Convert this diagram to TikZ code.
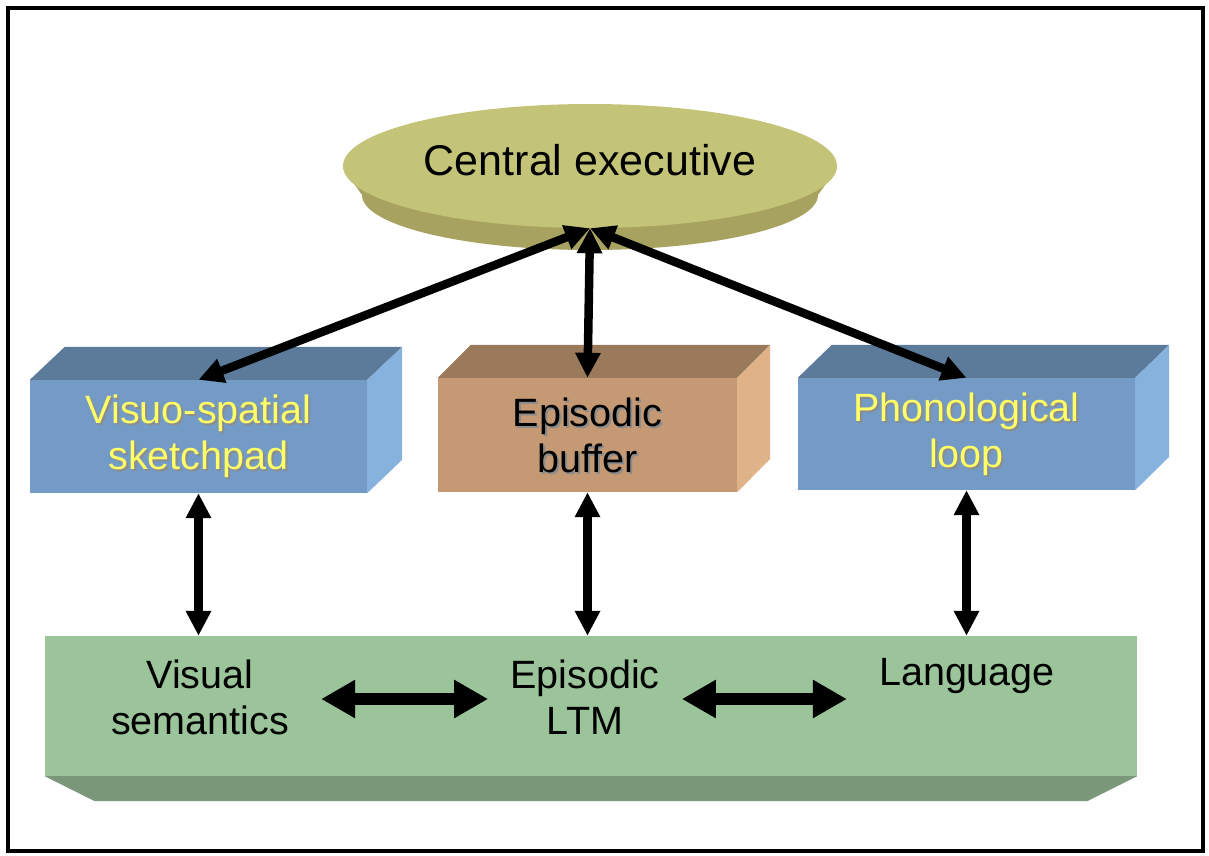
\documentclass[tikz,border=0pt]{standalone}
\usepackage{fontspec}
\setmainfont{Liberation Sans}
\usetikzlibrary{arrows.meta,shapes.geometric,calc}

\definecolor{cetop}{RGB}{196,196,120}
\definecolor{ceside}{RGB}{168,162,96}
\definecolor{bluefront}{RGB}{116,155,198}
\definecolor{bluetop}{RGB}{92,122,153}
\definecolor{blueside}{RGB}{135,178,222}
\definecolor{brownfront}{RGB}{196,153,116}
\definecolor{browntop}{RGB}{155,122,92}
\definecolor{brownside}{RGB}{224,178,135}
\definecolor{greenfront}{RGB}{155,196,155}
\definecolor{greenside}{RGB}{122,151,122}
\definecolor{labelyellow}{RGB}{255,255,102}
\definecolor{txtshadow}{RGB}{140,140,140}

\tikzset{
  bigfont/.style={font=\fontsize{39.5}{46}\selectfont},
  face/.style={rectangle, inner sep=0pt, minimum width=337pt, minimum height=113pt},
  boxtext/.style={bigfont, align=center, inner sep=0pt},
  shadowtext/.style={boxtext, text=txtshadow},
  twoway/.style={line width=8.5pt,
    {Triangle[length=25pt,width=24pt]}-{Triangle[length=25pt,width=24pt]}},
  bigtwoway/.style={line width=12pt,
    {Triangle[length=34pt,width=36pt]}-{Triangle[length=34pt,width=36pt]}},
}

\begin{document}
\begin{tikzpicture}[x=1pt,y=-1pt]
\useasboundingbox (0,0) rectangle (1209,855);
\draw[line width=4pt] (8,8) rectangle (1203,851);

% central executive disc: tapered rim, then top face
\fill[ceside] (343,168) -- (362,195)
   arc[start angle=180, end angle=360, x radius=228pt, y radius=55pt]
   -- (837,168) -- cycle;
\node[ellipse, fill=cetop, inner sep=0pt, minimum width=494pt, minimum height=124pt,
      font=\fontsize{43}{50}\selectfont] (ce) at (590,166)
      {\raisebox{12pt}{Central executive}};

% three slave-system boxes (front face node, then top and right faces)
\node[face, fill=bluefront] (vss) at (198.5,436.5) {};
\fill[bluetop] (vss.north west) -- ++(35,-33) -- ($(vss.north east)+(35,-33)$) -- (vss.north east) -- cycle;
\fill[blueside] (vss.north east) -- ++(35,-33) -- ++(0,113) -- (vss.south east) -- cycle;

\node[face, fill=brownfront, minimum width=299pt, minimum height=114pt] (eb) at (587.5,435) {};
\fill[browntop] (eb.north west) -- ++(33,-33) -- ($(eb.north east)+(33,-33)$) -- (eb.north east) -- cycle;
\fill[brownside] (eb.north east) -- ++(33,-33) -- ++(0,114) -- (eb.south east) -- cycle;

\node[face, fill=bluefront, minimum height=112pt] (pl) at (966.5,434) {};
\fill[bluetop] (pl.north west) -- ++(34,-33) -- ($(pl.north east)+(34,-33)$) -- (pl.north east) -- cycle;
\fill[blueside] (pl.north east) -- ++(34,-33) -- ++(0,112) -- (pl.south east) -- cycle;

\node[shadowtext] (vss-sh) at ($(vss)+(2,2)$) {Visuo-spatial\\sketchpad};
\node[boxtext, text=labelyellow] (vss-t) at (vss) {Visuo-spatial\\sketchpad};
\node[shadowtext] (eb-sh) at ($(eb)+(2,2)$) {Episodic\\buffer};
\node[boxtext] (eb-t) at (eb) {Episodic\\buffer};
\node[shadowtext] (pl-sh) at ($(pl)+(2,2)$) {Phonological\\loop};
\node[boxtext, text=labelyellow] (pl-t) at (pl) {Phonological\\loop};

% long-term memory slab
\node[rectangle, fill=greenfront, inner sep=0pt, minimum width=1092pt, minimum height=140pt] (slab) at (591,706) {};
\fill[greenside] (slab.south west) -- ++(50,25) -- ($(slab.south east)+(-50,25)$) -- (slab.south east) -- cycle;

\node[boxtext] (vsem) at (200,697) {Visual\\semantics};
\node[boxtext] (eltm) at (585,697) {Episodic\\LTM};
\node[boxtext] (lang) at (967,676) {Language};

% connectors
\draw[twoway] (ce.south) -- (vss.north);
\draw[twoway] (ce.south) -- (eb.north);
\draw[twoway] (ce.south) -- (pl.north);

\draw[twoway] (vss.south) -- (vss.south |- slab.north);
\draw[twoway] (eb.south) -- (eb.south |- slab.north);
\draw[twoway] (pl.south) -- (pl.south |- slab.north);

\draw[bigtwoway, shorten <=32pt, shorten >=22pt] ($(vsem.east)+(0,2)$) -- ($(eltm.west)+(0,2)$);
\draw[bigtwoway, shorten <=22pt, shorten >=32pt] ($(eltm.east)+(0,2)$) -- ($(eltm.east -| lang.west)+(0,2)$);
\end{tikzpicture}
\end{document}
